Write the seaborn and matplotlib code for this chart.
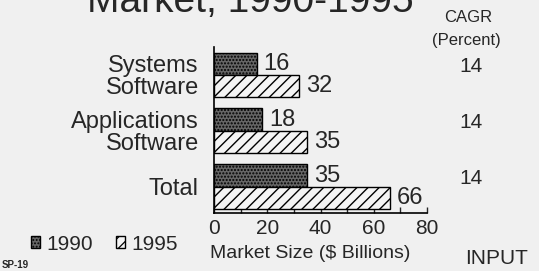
import pandas as pd
import matplotlib.pyplot as plt
import matplotlib.transforms as mtransforms
import seaborn as sns

# ===================== data =====================
categories = ['Systems\nSoftware', 'Applications\nSoftware', 'Total']
years = ['1990', '1995']
values_1990 = [16, 18, 35]
values_1995 = [32, 35, 66]
cagr = [14, 14, 14]
x_ticks = [0, 20, 40, 60, 80]

df = pd.DataFrame({
    'category': categories * 2,
    'year': [years[0]] * 3 + [years[1]] * 3,
    'value': values_1990 + values_1995,
})

# ===================== style =====================
sns.set_style('ticks')
plt.rcParams['font.family'] = ['Liberation Sans', 'DejaVu Sans']
bg = '#f0f0f0'

fig = plt.figure(figsize=(5.39, 2.71), dpi=100, facecolor=bg)
ax = fig.add_axes([214 / 539, 1 - 213 / 271, 213 / 539, 166 / 271])
ax.set_facecolor(bg)

sns.barplot(data=df, y='category', x='value', hue='year', orient='h',
            palette={'1990': '#666666', '1995': '#f4f4f4'},
            edgecolor='black', linewidth=1.0, ax=ax, legend=False)

plt.rcParams['hatch.linewidth'] = 0.9
for p in ax.containers[0]:
    p.set_hatch('.....')
for p in ax.containers[1]:
    p.set_hatch('///')

for cont in ax.containers:
    ax.bar_label(cont, padding=5, fontsize=17)

ax.set_xlim(0, 80)
ax.set_ylim(2.47, -0.5)
ax.set_xticks(x_ticks)
ax.set_xticks(range(0, 81, 10), minor=True)
ax.tick_params(axis='x', which='both', direction='in', length=4, width=1,
               labelsize=15, pad=4)
ax.tick_params(axis='y', length=0, labelsize=17, pad=11)
for lbl in ax.get_yticklabels():
    lbl.set_linespacing(0.98)
ax.set_xlabel('')
ax.set_ylabel('')
sns.despine(ax=ax)
for s in ['left', 'bottom']:
    ax.spines[s].set_linewidth(1.2)
    ax.spines[s].set_color('black')

# title (cropped at the top in the original)
fig.text(250 / 539, 1 - 12 / 271, 'Market, 1990-1995', fontsize=28,
         ha='center', va='baseline')

# CAGR column
fig.text(468 / 539, 1 - 17 / 271, 'CAGR', fontsize=12, ha='center', va='center')
fig.text(466 / 539, 1 - 41 / 271, '(Percent)', fontsize=12, ha='center', va='center')
trans = mtransforms.blended_transform_factory(fig.transFigure, ax.transData)
for i, c in enumerate(cagr):
    fig.text(471 / 539, i - 0.15, str(c), fontsize=15, ha='center',
             va='center', transform=trans)

fig.text(310 / 539, 1 - 254 / 271, 'Market Size ($ Billions)', fontsize=14,
         ha='center', va='center')
fig.text(497 / 539, 1 - 258 / 271, 'INPUT', fontsize=15, ha='center', va='center')
fig.text(2 / 539, 1 - 265 / 271, 'SP-19', fontsize=7, fontweight='bold',
         ha='left', va='center')

# legend
handles = [ax.containers[0][0], ax.containers[1][0]]
fig.legend(handles, years, loc='center left', bbox_to_anchor=(12 / 539, 1 - 244 / 271),
           ncol=2, frameon=False, fontsize=15, handlelength=0.45, handleheight=0.45,
           handletextpad=0.3, columnspacing=1.1)

fig.savefig('out.png', dpi=100, facecolor=bg)
